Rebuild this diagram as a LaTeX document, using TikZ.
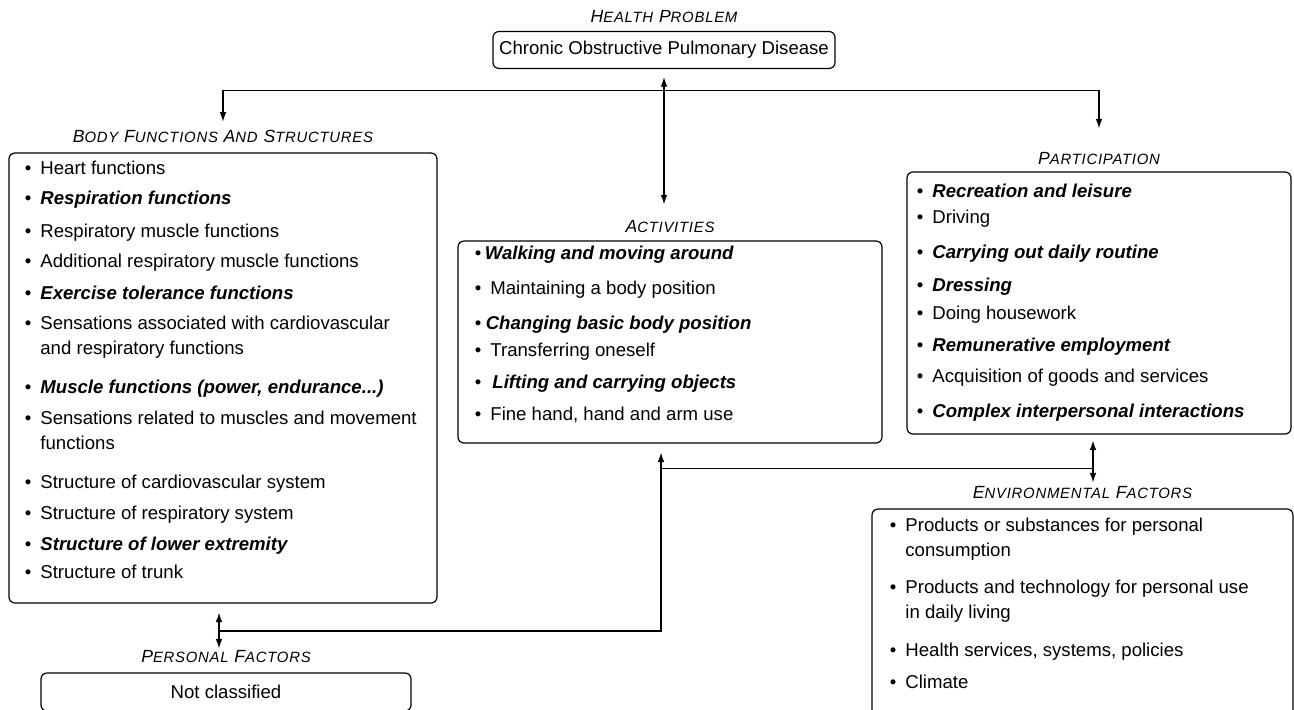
\documentclass[tikz,border=0pt]{standalone}
\usepackage{fontspec}
\setmainfont{Liberation Sans}
\newfontfamily\lblfont[LetterSpace=5]{Liberation Sans}
\usetikzlibrary{arrows.meta,positioning,calc}
\newcommand\smc[1]{{\fontsize{7.45}{8}\selectfont #1}}
\newcommand\itm[2][7.8pt]{\makebox[#1][l]{\textbullet}#2}
\newcommand\cnt[1]{\hspace*{7.8pt}#1}
\newcommand\key[1]{\textbf{\textit{#1}}}

\begin{document}
\begin{tikzpicture}[x=0.5pt,y=-0.5pt,
  box/.style={draw,rounded corners=3pt,line width=0.6pt,inner sep=0pt},
  lbl/.style={font=\lblfont\itshape\fontsize{8.8}{9}\selectfont,inner sep=0pt},
  lst/.style={align=left,anchor=north west,inner sep=0pt,font=\fontsize{9.3}{12.5}\selectfont},
  arr/.style={-{Latex[length=4.8pt,width=3.4pt]},line width=0.6pt},
  arrs/.style={{Latex[length=4.8pt,width=3.4pt]}-{Latex[length=4.8pt,width=3.4pt]},line width=0.6pt}
]
  \useasboundingbox (0,0) rectangle (1294,709);

  % health problem
  \node[box,minimum width=171pt,minimum height=18.5pt,font=\fontsize{9.3}{11}\selectfont] (hp) at (664,50) {Chronic Obstructive Pulmonary Disease};
  \node[lbl,above=4pt of hp] (hplab) {H\smc{EALTH} P\smc{ROBLEM}};

  % body functions and structures
  \node[box,minimum width=214pt,minimum height=225pt] (bfs) at (223,378) {};
  \node[lbl,above=4.75pt of bfs] (bfslab) {B\smc{ODY} F\smc{UNCTIONS} A\smc{ND} S\smc{TRUCTURES}};
  \node[lst] (bfslist) at ($(bfs.north west)+(16,8)$) {%
    \itm{Heart functions}\\[2.5pt]
    \itm{\key{Respiration functions}}\\[4pt]
    \itm{Respiratory muscle functions}\\[2.5pt]
    \itm{Additional respiratory muscle functions}\\[3.5pt]
    \itm{\key{Exercise tolerance functions}}\\[2.5pt]
    \itm{Sensations associated with cardiovascular}\\
    \cnt{and respiratory functions}\\[7pt]
    \itm{\key{Muscle functions (power, endurance...)}}\\[3pt]
    \itm{Sensations related to muscles and movement}\\
    \cnt{functions}\\[7pt]
    \itm{Structure of cardiovascular system}\\[3pt]
    \itm{Structure of respiratory system}\\[3pt]
    \itm{\key{Structure of lower extremity}}\\[1.5pt]
    \itm{Structure of trunk}};

  % activities
  \node[box,minimum width=212pt,minimum height=101pt] (act) at (670,342) {};
  \node[lbl,above=3.5pt of act] (actlab) {A\smc{CTIVITIES}};
  \node[lst] (actlist) at ($(act.north west)+(17,5)$) {%
    \itm[5pt]{\key{Walking and moving around}}\\[5pt]
    \itm{Maintaining a body position}\\[5pt]
    \itm[5.5pt]{\key{Changing basic body position}}\\[1pt]
    \itm{Transferring oneself}\\[3.5pt]
    \itm[8.8pt]{\key{Lifting and carrying objects}}\\[3.5pt]
    \itm{Fine hand, hand and arm use}};

  % participation
  \node[box,minimum width=192pt,minimum height=131pt] (par) at (1099,303) {};
  \node[lbl,above=3pt of par] (parlab) {P\smc{ARTICIPATION}};
  \node[lst] (parlist) at ($(par.north west)+(10,12)$) {%
    \itm{\key{Recreation and leisure}}\\[0.5pt]
    \itm{Driving}\\[5pt]
    \itm{\key{Carrying out daily routine}}\\[4pt]
    \itm{\key{Dressing}}\\[1.5pt]
    \itm{Doing housework}\\[3.5pt]
    \itm{\key{Remunerative employment}}\\[3pt]
    \itm{Acquisition of goods and services}\\[5pt]
    \itm{\key{Complex interpersonal interactions}}};

  % environmental factors
  \node[box,minimum width=210.5pt,minimum height=110.5pt] (env) at (1082.5,619.5) {};
  \node[lbl,above=4.5pt of env] (envlab) {E\smc{NVIRONMENTAL} F\smc{ACTORS}};
  \node[lst] (envlist) at ($(env.north west)+(18,9)$) {%
    \itm{Products or substances for personal}\\
    \cnt{consumption}\\[6pt]
    \itm{Products and technology for personal use}\\
    \cnt{in daily living}\\[6.5pt]
    \itm{Health services, systems, policies}\\[3.5pt]
    \itm{Climate}};

  % personal factors
  \node[box,minimum width=185pt,minimum height=19pt,font=\fontsize{9.3}{11}\selectfont] (pf) at (226,692) {Not classified};
  \node[lbl,above=4.5pt of pf] (pflab) {P\smc{ERSONAL} F\smc{ACTORS}};

  % connectors
  \coordinate (split) at ($(hp.south)+(0,21)$);
  \coordinate (pfj) at (219,631);
  \coordinate (actj) at (661,468);
  \coordinate (envj) at (1093,468);
  \draw[arr] (split) -| ([yshift=4pt]bfslab.north);
  \draw[arr] (split) -| ([yshift=12pt]parlab.north);
  \draw[arrs] ([yshift=-4pt]hp.south) -- ([yshift=8pt]actlab.north -| hp.south);
  \draw[arrs] ([yshift=-4.5pt]bfs.south -| pfj) -- ([yshift=1pt]pflab.north -| pfj);
  \draw[arr] (pfj) -| ([yshift=-4.5pt]act.south -| actj);
  \draw (actj) -- (envj);
  \draw[arrs] ([yshift=-3pt]par.south -| envj) -- ([yshift=2pt]envlab.north -| envj);
\end{tikzpicture}
\end{document}
